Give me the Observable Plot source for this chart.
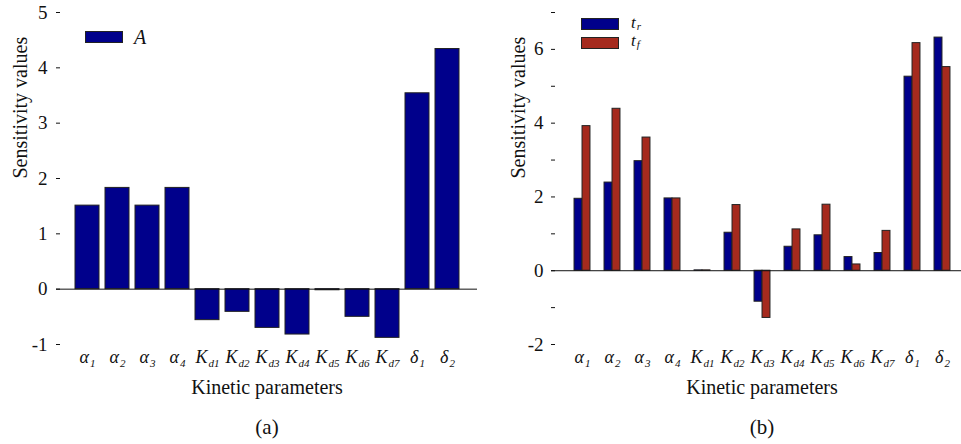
<!DOCTYPE html>
<html><head><meta charset="utf-8">
<script src="https://cdn.jsdelivr.net/npm/d3@7"></script>
<script src="https://cdn.jsdelivr.net/npm/@observablehq/plot@0.6"></script>
<style>
body{margin:0;background:#fff;}
#wrap{position:relative;width:961px;height:444px;font-family:"Liberation Serif","Times New Roman",Times,Tinos,"Noto Serif","DejaVu Serif",FreeSerif,"Nimbus Roman",serif;color:#111;overflow:hidden;}
#wrap svg{position:absolute;top:0;overflow:visible;}
.sw{position:absolute;box-sizing:border-box;border:1px solid #222;}
.lg{position:absolute;font-style:italic;font-size:17px;line-height:10px;white-space:nowrap;}
.lg.big{font-size:20px;}
.lg span{font-size:11px;position:relative;top:2px;margin-left:1px;line-height:0;}
</style></head><body>
<div id="wrap"></div>
<script>
// ---- data ----
const params = ["a1","a2","a3","a4","Kd1","Kd2","Kd3","Kd4","Kd5","Kd6","Kd7","d1","d2"];
const paramMain = ["α","α","α","α","K","K","K","K","K","K","K","δ","δ"];
const paramSub = ["1","2","3","4","d1","d2","d3","d4","d5","d6","d7","1","2"];
const sensA  = [1.51, 1.83, 1.51, 1.83, -0.56, -0.41, -0.70, -0.82, -0.02, -0.50, -0.88, 3.54, 4.34];
const sensTr = [1.95, 2.39, 2.97, 1.96, 0.01, 1.03, -0.84, 0.65, 0.96, 0.37, 0.48, 5.26, 6.32];
const sensTf = [3.92, 4.39, 3.61, 1.96, 0.01, 1.78, -1.28, 1.12, 1.79, 0.17, 1.08, 6.17, 5.52];
const ticksA = [-1, 0, 1, 2, 3, 4, 5];
const tickLabelsA = ["-1", "0", "1", "2", "3", "4", "5"];
const ticksB = [-2, -1, 0, 1, 2, 3, 4, 5, 6, 7];
const tickLabelsB = ["-2", "", "0", "", "2", "", "4", "", "6", ""];
const yTitle = "Sensitivity values";
const xTitle = "Kinetic parameters";

// ---- style ----
const font = `"Liberation Serif","Times New Roman",Times,Tinos,"Noto Serif","DejaVu Serif",FreeSerif,"Nimbus Roman",serif`;
const blue = "#00008b", red = "#a52a1e", edge = "#222";
const tableA = params.map((p, i) => ({p, v: sensA[i]}));
const tableB = params.map((p, i) => ({p, tr: sensTr[i], tf: sensTf[i]}));
const step = 421 / 14, bw = step * 0.8, half = bw / 2, barW = 8;
const tickLen = 4;

function subscriptTicks(svg) {
  svg.querySelectorAll('g[aria-label="x-axis tick label"] text').forEach(t => {
    const i = params.indexOf(t.textContent.trim());
    if (i < 0) return;
    t.textContent = "";
    const ns = "http://www.w3.org/2000/svg";
    const a = document.createElementNS(ns, "tspan");
    a.textContent = paramMain[i];
    a.setAttribute("font-size", "18");
    const b = document.createElementNS(ns, "tspan");
    b.textContent = paramSub[i];
    b.setAttribute("font-size", "11");
    b.setAttribute("dy", "4");
    b.setAttribute("dx", "1");
    t.appendChild(a); t.appendChild(b);
    t.setAttribute("font-style", "italic");
  });
}

const left = Plot.plot({
  width: 480, height: 444,
  marginLeft: 56, marginRight: 3, marginTop: 12, marginBottom: 100,
  style: {fontFamily: font, fontSize: "19px", background: "transparent", color: "#111"},
  x: {domain: params, paddingInner: 0.2, paddingOuter: 0.6},
  y: {domain: [-1, 5]},
  marks: [
    Plot.barY(tableA, {x: "p", y: "v", fill: blue, stroke: edge, strokeWidth: 1}),
    Plot.ruleY([0], {stroke: "#111", strokeWidth: 1}),
    Plot.ruleY(ticksA, {y: d => d, stroke: "#111", insetRight: 421 - tickLen}),
    Plot.axisY({ticks: ticksA, tickFormat: d => tickLabelsA[ticksA.indexOf(d)], tickSize: 0, tickPadding: 9, line: true, label: null, fontSize: 19}),
    Plot.axisX({tickSize: 0, tickPadding: 6, label: null, tickFormat: d => d, fontSize: 18}),
    Plot.text([yTitle], {text: d => d, frameAnchor: "left", rotate: -90, dx: -36, fontSize: 20}),
    Plot.text([xTitle], {text: d => d, frameAnchor: "bottom", dy: 49, lineAnchor: "bottom", fontSize: 20}),
    Plot.text(["(a)"], {text: d => d, frameAnchor: "bottom", dy: 89, lineAnchor: "bottom", fontSize: 21})
  ]
});
left.style.left = "0px";
subscriptTicks(left);

const right = Plot.plot({
  width: 481, height: 444,
  marginLeft: 71, marginRight: 0, marginTop: 12, marginBottom: 100,
  style: {fontFamily: font, fontSize: "19px", background: "transparent", color: "#111"},
  x: {domain: params, range: [71, 492], paddingInner: 0.2, paddingOuter: 0.6},
  y: {domain: [-2, 7]},
  marks: [
    Plot.barY(tableB, {x: "p", y: "tr", fill: blue, stroke: edge, strokeWidth: 1, insetLeft: half - barW, insetRight: half}),
    Plot.barY(tableB, {x: "p", y: "tf", fill: red, stroke: edge, strokeWidth: 1, insetLeft: half, insetRight: half - barW}),
    Plot.ruleY([0], {stroke: "#111", strokeWidth: 1}),
    Plot.ruleY(ticksB, {y: d => d, stroke: "#111", insetRight: 410 - tickLen}),
    Plot.axisY({ticks: ticksB, tickFormat: d => tickLabelsB[ticksB.indexOf(d)], tickSize: 0, tickPadding: 8, line: true, label: null, fontSize: 19}),
    Plot.axisX({tickSize: 0, tickPadding: 6, label: null, tickFormat: d => d, fontSize: 18}),
    Plot.text([yTitle], {text: d => d, frameAnchor: "left", rotate: -90, dx: -33, fontSize: 20}),
    Plot.text([xTitle], {text: d => d, frameAnchor: "bottom", dx: 5.5, dy: 49, lineAnchor: "bottom", fontSize: 20}),
    Plot.text(["(b)"], {text: d => d, frameAnchor: "bottom", dx: 5.5, dy: 89, lineAnchor: "bottom", fontSize: 21})
  ]
});
right.style.left = "480px";
subscriptTicks(right);

const wrap = document.getElementById("wrap");
wrap.appendChild(left);
wrap.appendChild(right);

// ---- legends ----
function swatch(x, y, color) {
  const d = document.createElement("div");
  d.className = "sw";
  Object.assign(d.style, {left: x + "px", top: y + "px", width: "38px", height: "12px", background: color});
  wrap.appendChild(d);
}
function label(x, y, main, sub, cls) {
  const d = document.createElement("div");
  d.className = "lg" + (cls ? " " + cls : "");
  d.style.left = x + "px"; d.style.top = y + "px";
  d.textContent = main;
  if (sub) { const s = document.createElement("span"); s.textContent = sub; d.appendChild(s); }
  wrap.appendChild(d);
}
swatch(85, 31, blue); label(134, 32, "A", null, "big");
swatch(581, 18, blue); label(631, 18, "t", "r");
swatch(581, 37, red);  label(631, 36, "t", "f");
</script>
</body></html>
